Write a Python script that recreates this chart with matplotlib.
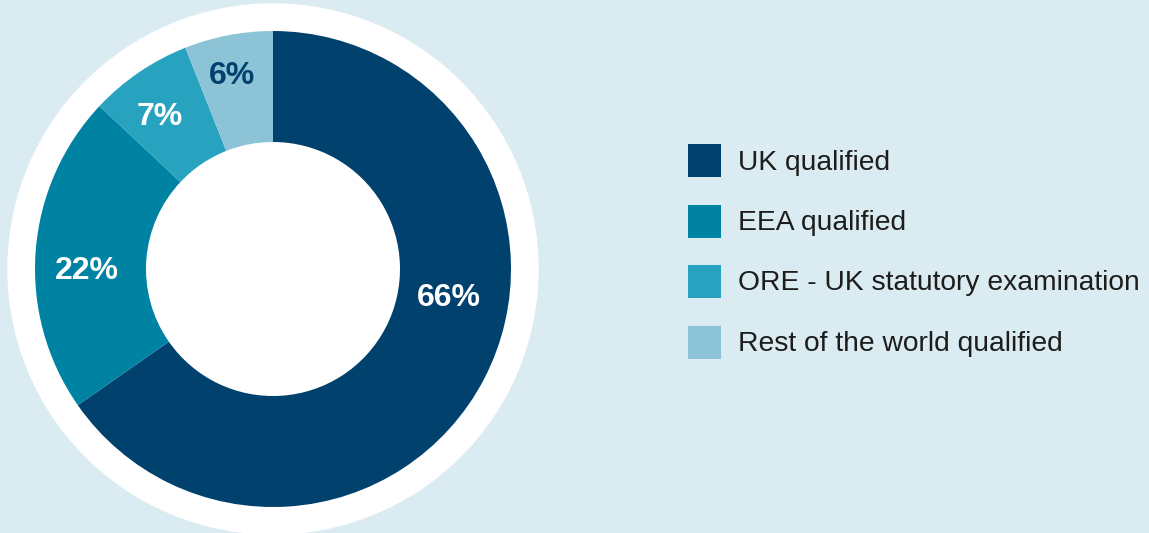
import numpy as np
import matplotlib.pyplot as plt
from matplotlib.patches import Circle, Rectangle

plt.rcParams['font.family'] = ['Liberation Sans', 'DejaVu Sans']

categories = ["UK qualified", "EEA qualified", "ORE - UK statutory examination",
              "Rest of the world qualified"]
shares = [65.3, 21.7, 7.0, 6.0]
pct_labels = ["66%", "22%", "7%", "6%"]

colors = ["#00416e", "#0082a3", "#28a3bf", "#8dc3d6"]
label_colors = ["white", "white", "white", "#00416e"]
bg = "#daebf2"

W, H = 1149, 533
fig = plt.figure(figsize=(W / 100, H / 100), dpi=100)
fig.patch.set_facecolor(bg)
ax = fig.add_axes([0, 0, 1, 1])
ax.set_facecolor(bg)

cx, cy = 273, H - 269
r_out, r_in = 238, 127

ax.add_patch(Circle((cx, cy), 265, color="white", zorder=0))
wedges, _ = ax.pie(shares, colors=colors, startangle=90, counterclock=False,
                   center=(cx, cy), radius=r_out,
                   wedgeprops=dict(width=r_out - r_in, linewidth=0))

# label placement: radius along the ring, extra angle shift for the big slice
label_r = [178, 186, 191, 199]
angle_shift = [18.8, 4.0, 2.0, 1.2]
for w, txt, col, rr, sh in zip(wedges, pct_labels, label_colors, label_r, angle_shift):
    mid = np.deg2rad((w.theta1 + w.theta2) / 2 + sh)
    ax.text(cx + rr * np.cos(mid), cy + rr * np.sin(mid) - 2, txt, color=col,
            fontsize=23, fontweight="bold", ha="center", va="center")

# legend
lx, ly0, step, sq = 688, H - 144, 60.5, 33
for i, (cat, col) in enumerate(zip(categories, colors)):
    top = ly0 - i * step
    ax.add_patch(Rectangle((lx, top - sq), sq, sq, color=col, linewidth=0))
    ax.text(lx + 50, top - sq / 2 - 2, cat, fontsize=20.3, color="#1d1d1b",
            ha="left", va="center")

ax.set_xlim(0, W)
ax.set_ylim(0, H)
ax.set_aspect("equal")
ax.axis("off")

fig.savefig("out.png", dpi=100, facecolor=bg)
